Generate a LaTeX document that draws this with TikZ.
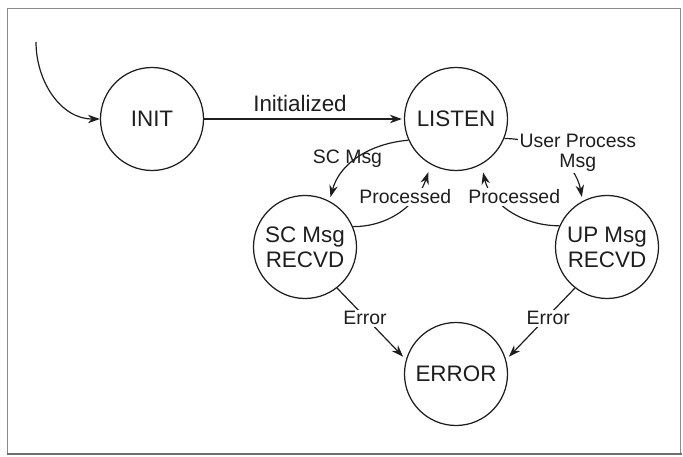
\documentclass[tikz,border=0pt]{standalone}
\usepackage{fontspec}
\setmainfont{Liberation Sans}
\usetikzlibrary{arrows.meta}
\definecolor{ink}{HTML}{1E1E1E}
\definecolor{framegray}{HTML}{8A8A8A}
\definecolor{shadowgray}{HTML}{6E6E6E}
\begin{document}
\begin{tikzpicture}[x=1bp,y=-1bp,
  state/.style={circle, draw=ink, line width=1.25bp, minimum size=103bp,
    inner sep=0pt, align=center, text=ink,
    font=\fontsize{22.5}{25}\selectfont},
  conn/.style={draw=ink, line width=1.2bp,
    -{Stealth[length=12bp,width=8.5bp]}},
  lbl/.style={font=\fontsize{19.5}{20}\selectfont, inner sep=1.5bp, text=ink},
  lblbig/.style={font=\fontsize{22.5}{25}\selectfont, inner sep=1.5bp, text=ink},
  cover/.style={fill=white}]

\useasboundingbox (0,0) rectangle (683,457);

% frame
\draw[framegray, line width=1bp] (7.5,453) -- (7.5,8.5) -- (680.5,8.5) -- (680.5,453);
\draw[shadowgray, line width=2.5bp] (6.5,454.2) -- (682,454.2);

% states
\node[state] (init)   at (152,119) {INIT};
\node[state] (listen) at (456,119) {LISTEN};
\node[state] (sc)     at (305,247) {SC Msg\\RECVD};
\node[state] (up)     at (607,247) {UP Msg\\RECVD};
\node[state] (err)    at (456,374) {ERROR};

% transitions
\coordinate (start) at (36,42);
\draw[conn] (start) to[out=-90,in=180] (init.west);
\draw[conn, shorten >=2bp] (init) -- (listen);
\draw[conn, shorten >=4bp] (listen.204) to[out=185,in=75] (sc.62);
\draw[conn, shorten >=8bp] (sc.23) to[out=0,in=-108] (listen.241);
\draw[conn, shorten >=8bp] (up.156) to[out=180,in=-77] (listen.299);
\draw[conn, shorten >=4bp] (listen.-22) to[out=0,in=100] (up.118);
\draw[conn, shorten >=4bp] (sc.-52) -- (err.164);
\draw[conn, shorten >=4bp] (up.-128) -- (err.16);

% transition labels
\node[lblbig, anchor=base] (tInit) at (300,111.5) {Initialized};
\node[lbl, anchor=base] (tSC) at (347.5,163.5) {SC Msg};
\node[lbl, cover, anchor=base] (tProcL) at (405.3,204) {Processed};
\node[lbl, cover, anchor=base] (tProcR) at (514.2,204) {Processed};
\node[lbl, cover, align=center] (tUser) at (577.8,153.2) {User Process\\Msg};
\node[lbl, cover, anchor=base] (tErrL) at (365,325) {Error};
\node[lbl, cover, anchor=base] (tErrR) at (548.3,325) {Error};
\end{tikzpicture}
\end{document}
